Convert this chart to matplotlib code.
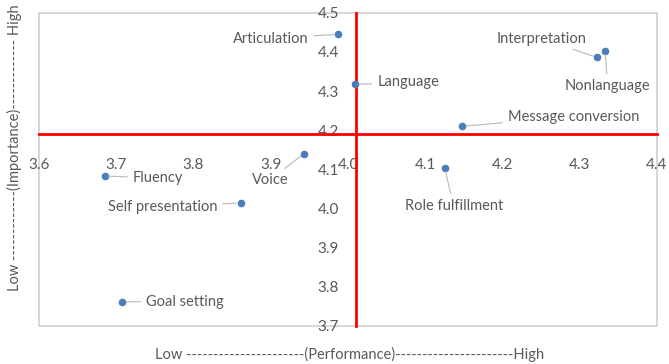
import matplotlib.pyplot as plt
from matplotlib.patches import Rectangle

# skill values: performance (x) vs importance (y)
skills = ["Articulation", "Interpretation", "Nonlanguage", "Language",
          "Message conversion", "Voice", "Fluency", "Role fulfillment",
          "Self presentation", "Goal setting"]
performance = [3.987, 4.322, 4.333, 4.009, 4.148, 3.943, 3.685, 4.125, 3.861, 3.708]
importance = [4.445, 4.386, 4.403, 4.317, 4.210, 4.140, 4.083, 4.104, 4.014, 3.762]

x_ticks = [3.6, 3.7, 3.8, 3.9, 4.0, 4.1, 4.2, 4.3, 4.4]
y_ticks = [3.7, 3.8, 3.9, 4.0, 4.1, 4.2, 4.3, 4.4, 4.5]
cross_x, cross_y = 4.01, 4.19

# where each data label sits (data coords)
label_pos = {
    "Articulation": (3.900, 4.434),
    "Interpretation": (4.251, 4.434),
    "Nonlanguage": (4.336, 4.312),
    "Language": (4.078, 4.322),
    "Message conversion": (4.292, 4.235),
    "Voice": (3.899, 4.073),
    "Fluency": (3.754, 4.078),
    "Role fulfillment": (4.137, 4.006),
    "Self presentation": (3.760, 4.005),
    "Goal setting": (3.789, 3.762),
}

plt.rcParams['font.family'] = ['Lato', 'DejaVu Sans']
txt = '#595959'

fig = plt.figure(figsize=(6.69, 3.64), dpi=100)
ax = fig.add_axes([0.0583, 0.1044, 0.9237, 0.8606])

ax.scatter(performance, importance, s=20, color='#4a7ebb', zorder=3)
for name, x, y in zip(skills, performance, importance):
    ax.annotate(name, xy=(x, y), xytext=label_pos[name], ha='center', va='center',
                fontsize=10.5, color=txt,
                arrowprops=dict(arrowstyle='-', color='#bfbfbf', lw=0.9,
                                shrinkA=2, shrinkB=3))

ax.set_xlim(3.6, 4.4)
ax.set_ylim(3.7, 4.5)
ax.set_xticks(x_ticks)
ax.set_yticks(y_ticks)
ax.set_xticklabels([f"{v:.1f}" for v in x_ticks])
ax.set_yticklabels([f"{v:.1f}" for v in y_ticks])

for s in ['top', 'right']:
    ax.spines[s].set_visible(False)
ax.spines['left'].set_position(('data', cross_x))
ax.spines['bottom'].set_position(('data', cross_y))
for s in ['left', 'bottom']:
    ax.spines[s].set_color('#ff0000')
    ax.spines[s].set_linewidth(2)
    ax.spines[s].set_zorder(2)

ax.add_patch(Rectangle((0, 0), 1, 1, transform=ax.transAxes, fill=False,
                       edgecolor='#d0d0d0', lw=1.2, zorder=1, clip_on=False))

ax.tick_params(axis='x', length=0, pad=17, labelsize=11, labelcolor=txt)
ax.tick_params(axis='y', length=0, pad=12, labelsize=11, labelcolor=txt)

fig.text(0.522, 0.025, "Low " + "-" * 22 + "(Performance)" + "-" * 22 + "High",
         ha='center', va='center', fontsize=10.5, color=txt)
fig.text(0.021, 0.593, "Low " + "-" * 13 + "(Importance)" + "-" * 13 + " High",
         ha='center', va='center', rotation=90, fontsize=10.5, color=txt)

fig.savefig("out.png", dpi=100)
